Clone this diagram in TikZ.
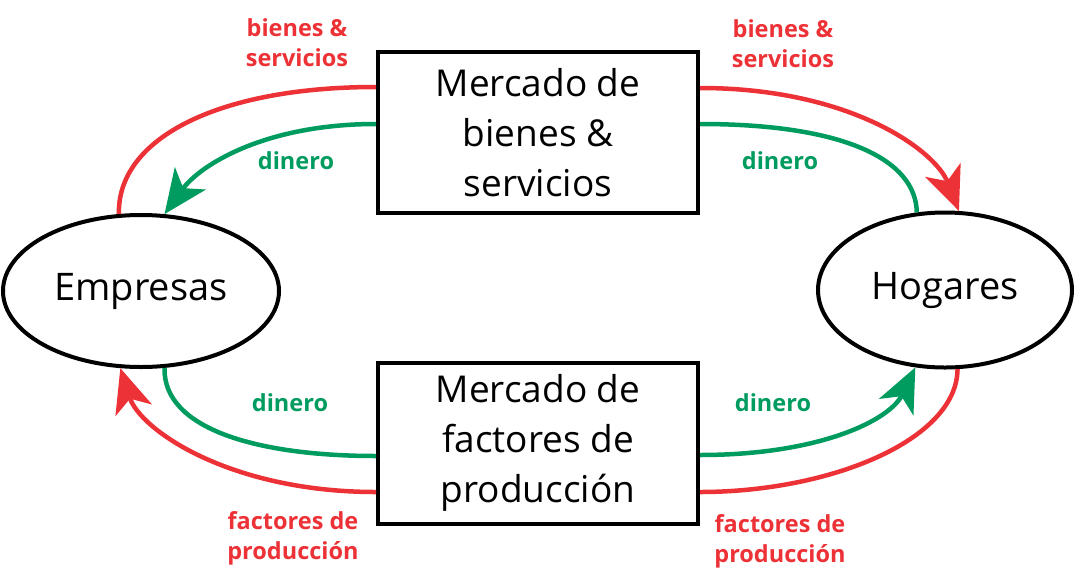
\documentclass[tikz,border=0pt]{standalone}
\usepackage{fontspec}
\setmainfont{Open Sans}
\usetikzlibrary{arrows.meta,shapes.geometric}
\definecolor{flowred}{RGB}{237,50,55}
\definecolor{flowgreen}{RGB}{0,155,95}
\tikzset{
  mkt/.style={draw=black,line width=4pt,minimum width=320pt,minimum height=161pt,inner sep=0pt,align=center,font=\fontsize{37}{50}\selectfont},
  agent/.style={draw=black,ellipse,line width=4pt,inner sep=0pt,font=\fontsize{38}{40}\selectfont},
  flow/.style={line width=4.5pt},
  tipped/.style={-{Stealth[length=44pt,width=38pt,inset=12pt]}},
  lbl/.style={font=\bfseries\fontsize{23.5}{30}\selectfont,align=center},
}
\begin{document}
\begin{tikzpicture}[x=1pt,y=-1pt]
\useasboundingbox (0,0) rectangle (1075,568);
\node[mkt] (B1) at (538,132.5) {Mercado de\\bienes \&\\servicios};
\node[mkt] (B2) at (538,443) {Mercado de\\factores de\\producción};
\node[agent,minimum width=276pt,minimum height=152pt] (E) at (141,291) {Empresas};
\node[agent,minimum width=254pt,minimum height=155pt] (H) at (945,290) {Hogares};
% top left
\draw[flow,flowred] ([yshift=45.5pt]B1.west) .. controls (215,87) and (117,140) .. (E.106.6);
\draw[flow,flowgreen,tipped] ([yshift=8.5pt]B1.west) .. controls (265,124) and (200,165) .. (E.73);
% top right
\draw[flow,flowred,tipped] ([yshift=44.5pt]B1.east) .. controls (850,88) and (935,150) .. (H.80.5);
\draw[flow,flowgreen] ([yshift=8.5pt]B1.east) .. controls (845,124) and (916,160) .. (H.110.6);
% bottom left
\draw[flow,flowgreen] (E.-73.6) .. controls (163,430) and (260,456) .. ([yshift=-13pt]B2.west);
\draw[flow,flowred,tipped] ([yshift=-49pt]B2.west) .. controls (230,492) and (140,430) .. (E.-105);
% bottom right
\draw[flow,flowgreen,tipped] ([yshift=-12pt]B2.east) .. controls (820,455) and (890,420) .. (H.-111);
\draw[flow,flowred] (H.-81) .. controls (957,440) and (830,492) .. ([yshift=-49pt]B2.east);
% labels
\node[lbl,text=flowred] (l1) at (297,43) {bienes \&\\servicios};
\node[lbl,text=flowred] (l2) at (783,44) {bienes \&\\servicios};
\node[lbl,text=flowgreen] (l3) at (296,161) {dinero};
\node[lbl,text=flowgreen] (l4) at (780,161) {dinero};
\node[lbl,text=flowgreen] (l5) at (290,403) {dinero};
\node[lbl,text=flowgreen] (l6) at (773,403) {dinero};
\node[lbl,text=flowred] (l7) at (293,538) {factores de\\producción};
\node[lbl,text=flowred] (l8) at (780,541) {factores de\\producción};
\end{tikzpicture}
\end{document}
